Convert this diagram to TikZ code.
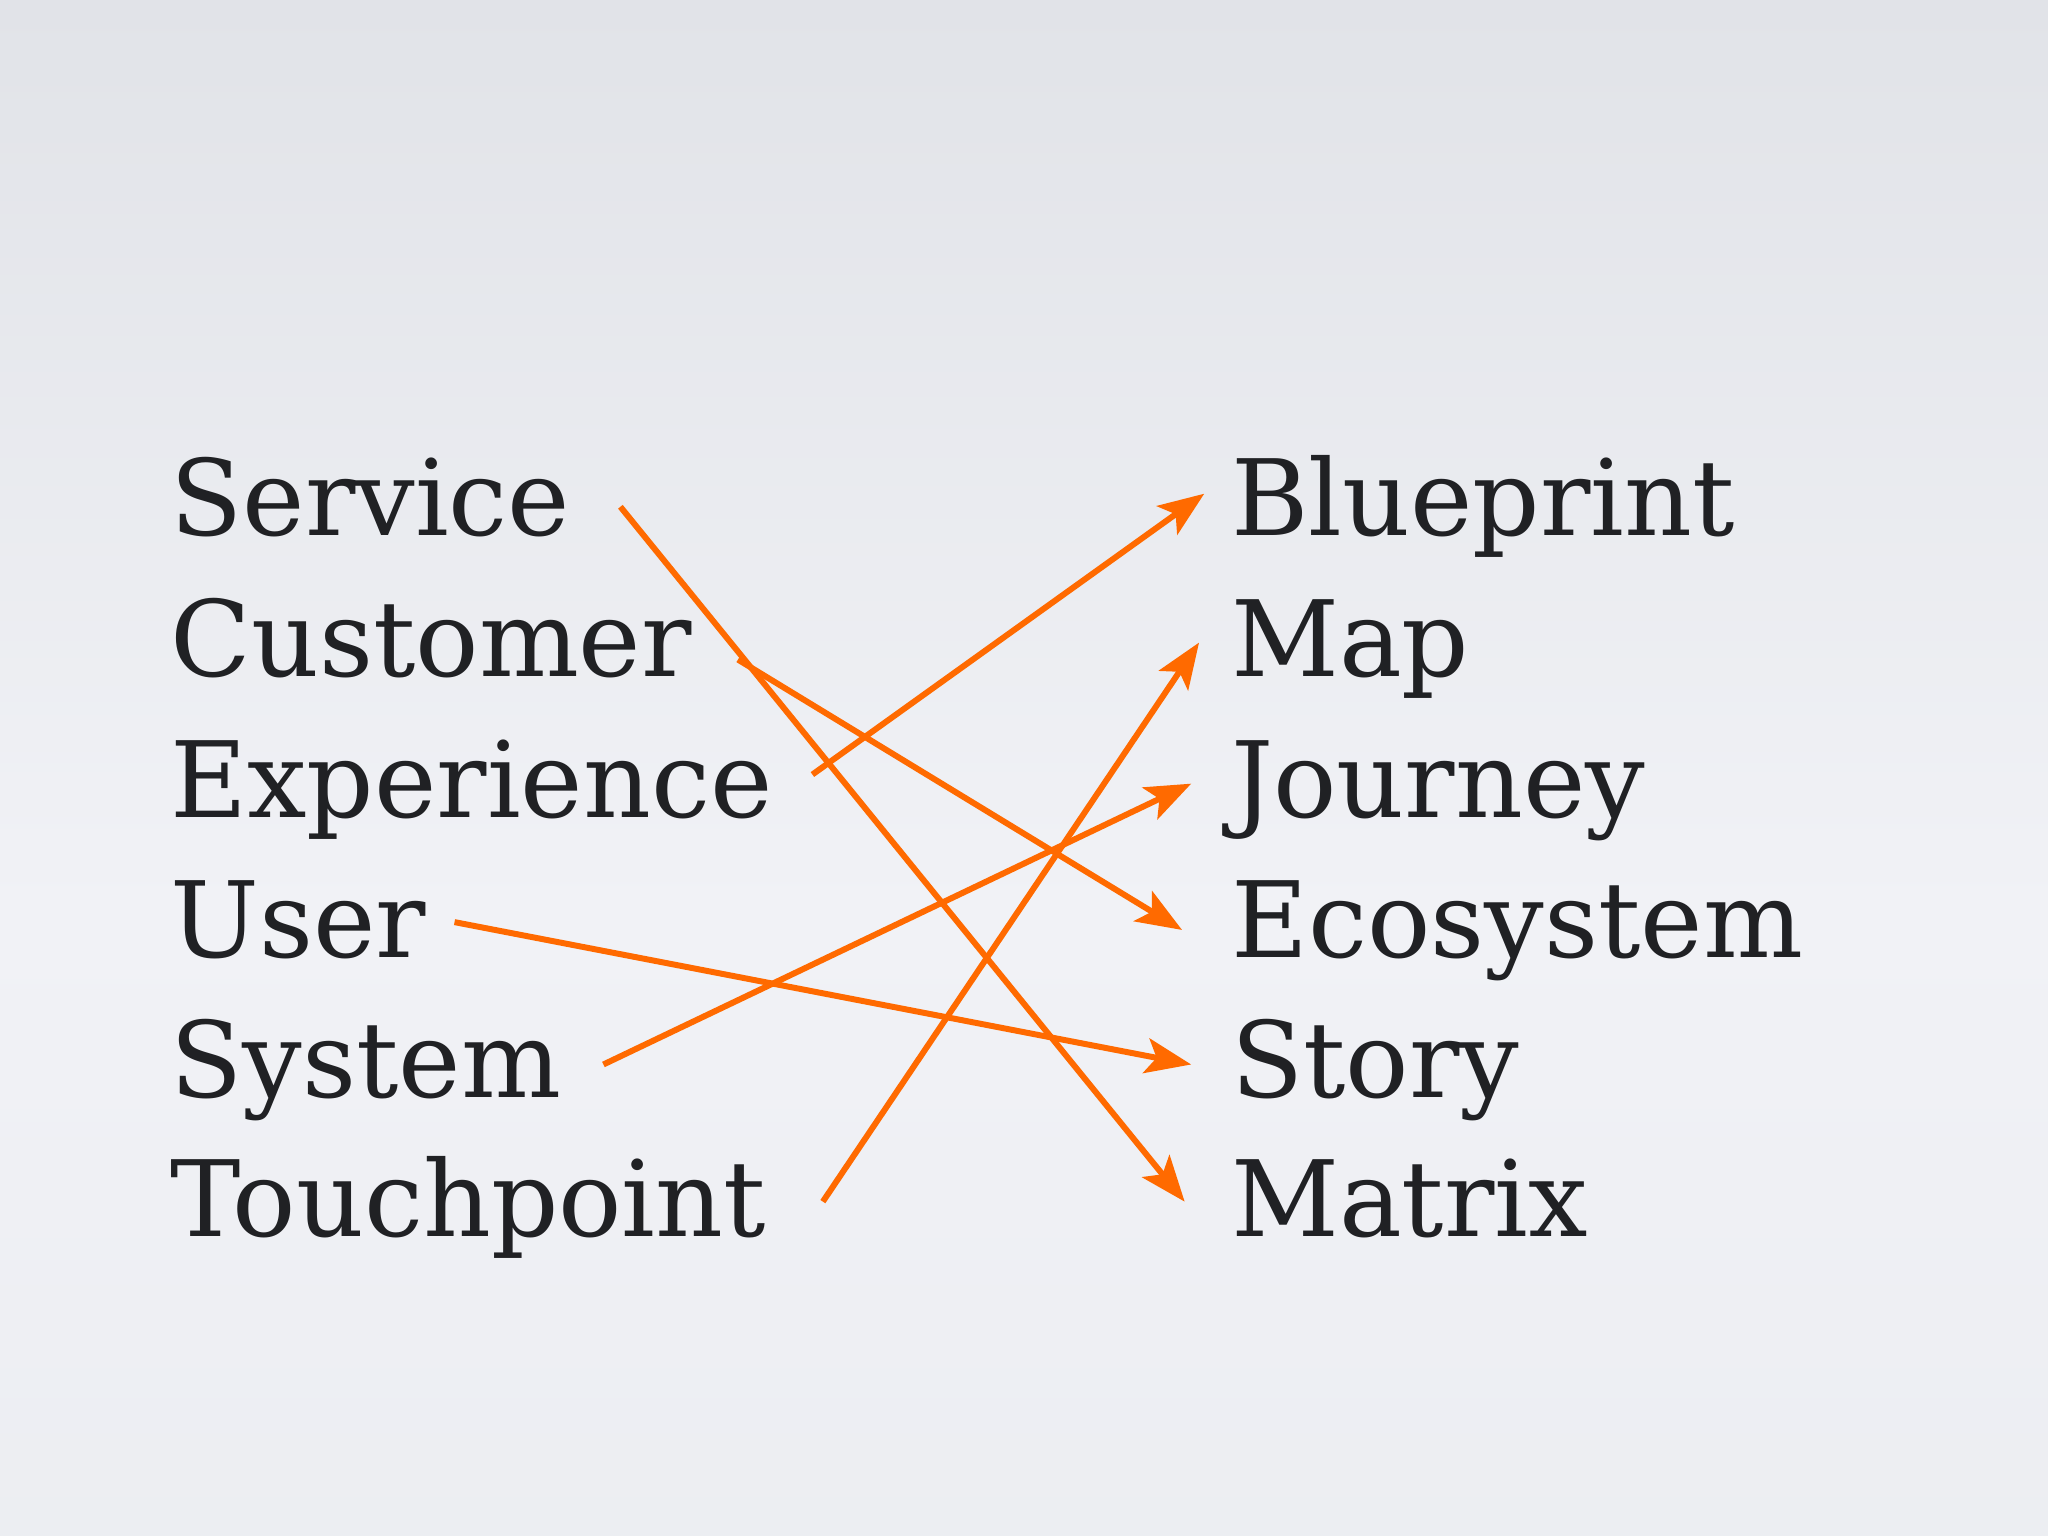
\documentclass[tikz,border=0pt]{standalone}
\usepackage{fontspec}
\setmainfont{DejaVu Serif}
\usetikzlibrary{arrows.meta}
\definecolor{bgtop}{HTML}{E1E3E8}
\definecolor{bgmid}{HTML}{F1F2F6}
\definecolor{ink}{HTML}{202124}
\definecolor{org}{HTML}{FF6A00}
\tikzset{
  word/.style={anchor=base west,inner sep=0pt,text=ink,font=\fontsize{30}{30}\selectfont},
  link/.style={draw=org,line width=1.7pt,-{Stealth[length=13pt,width=10pt,inset=3pt]}}
}
\begin{document}
\begin{tikzpicture}[x=0.013061cm,y=-0.013061cm]
\shade[top color=bgtop,bottom color=bgmid] (0,0) rectangle (1568,700);
\shade[top color=bgmid,bottom color=bgmid!70!bgtop] (0,700) rectangle (1568,1176);
\useasboundingbox (0,0) rectangle (1568,1176);
\foreach \t/\n/\y in {Service/l1/410,Customer/l2/518,Experience/l3/626,User/l4/733,System/l5/840,Touchpoint/l6/947}
  \node[word] (\n) at (130,\y) {\t};
\foreach \t/\n/\y in {Blueprint/r1/410,Map/r2/518,Journey/r3/626,Ecosystem/r4/733,Story/r5/840,Matrix/r6/947}
  \node[word] (\n) at (942,\y) {\t};
\coordinate (a1) at (475,388); \coordinate (b6) at (907,920);
\coordinate (a2) at (565,505); \coordinate (b4) at (905,712);
\coordinate (a3) at (622,593); \coordinate (b1) at (922,378);
\coordinate (a4) at (348,706); \coordinate (b5) at (912,815);
\coordinate (a5) at (462,815); \coordinate (b3) at (912,600);
\coordinate (a6) at (630,920); \coordinate (b2) at (918,492);
\draw[link] (a1) -- (b6);
\draw[link] (a2) -- (b4);
\draw[link] (a3) -- (b1);
\draw[link] (a4) -- (b5);
\draw[link] (a5) -- (b3);
\draw[link] (a6) -- (b2);
\end{tikzpicture}
\end{document}
